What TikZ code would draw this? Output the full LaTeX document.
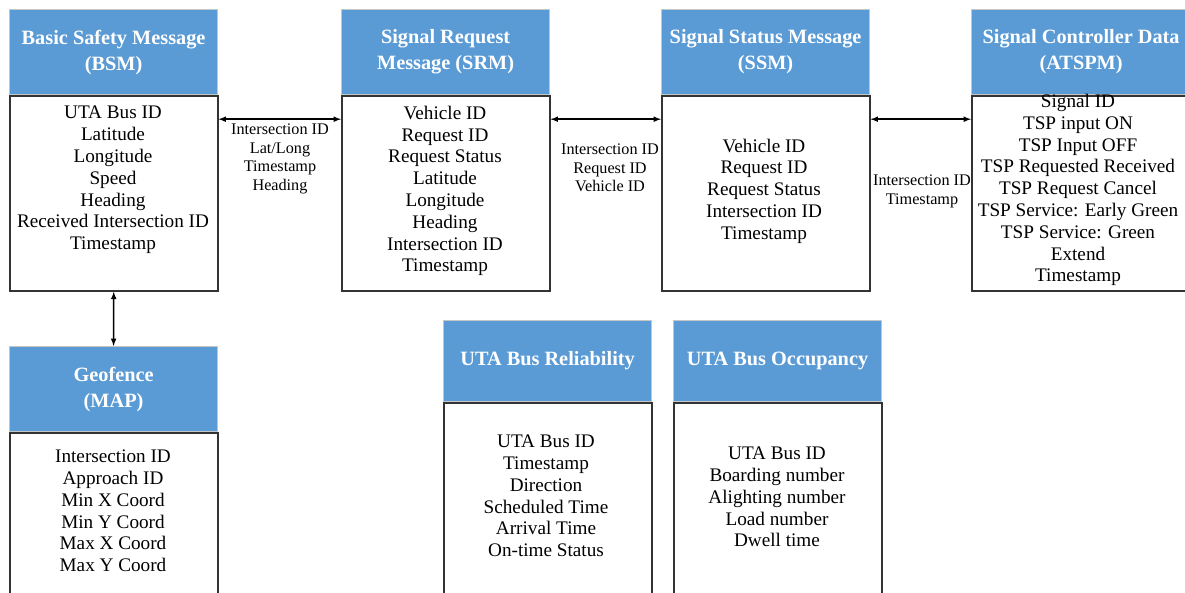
\documentclass[tikz,border=0pt]{standalone}
\usepackage{fontspec}
\setmainfont{Liberation Serif}
\definecolor{hdrblue}{HTML}{5B9BD5}

\begin{document}
\begin{tikzpicture}[x=1pt, y=-1pt,
		header/.style={draw=gray!45, line width=1.2pt, fill=hdrblue, text=white, align=center,
			font=\fontsize{20.3}{26}\selectfont\bfseries, minimum width=208pt, minimum height=85pt,
			anchor=north west, inner sep=0pt},
		body/.style={draw=black!80, line width=1.5pt, fill=white, minimum width=208pt,
			minimum height=195pt, anchor=north west, inner sep=0pt},
		fields/.style={font=\fontsize{19.2}{21.8}\selectfont, align=center, inner sep=0pt},
		flowlabel/.style={font=\fontsize{16.2}{18.7}\selectfont, align=center, inner sep=0pt},
		link/.style={line width=1.5pt, <->, >=latex}]
		\useasboundingbox (0, 0) rectangle (1185, 592);

		% messaggi
		\node[header] (bsmhead) at (9, 9) {Basic Safety Message\\(BSM)};
		\node[body] (bsmbody) at (bsmhead.south west) {};
		\node[header] (srmhead) at (341, 9) {Signal Request\\Message (SRM)};
		\node[body] (srmbody) at (srmhead.south west) {};
		\node[header] (ssmhead) at (661, 9) {Signal Status Message\\(SSM)};
		\node[body] (ssmbody) at (ssmhead.south west) {};
		\node[header, minimum width=219pt] (atspmhead) at (971, 9) {Signal Controller Data\\(ATSPM)};
		\node[body, minimum width=219pt] (atspmbody) at (atspmhead.south west) {};

		% dati
		\node[header] (maphead) at (9, 346) {Geofence\\(MAP)};
		\node[body] (mapbody) at (maphead.south west) {};
		\node[header, minimum height=81pt] (relhead) at (443, 320) {UTA Bus Reliability};
		\node[body] (relbody) at (relhead.south west) {};
		\node[header, minimum height=81pt] (occhead) at (673, 320) {UTA Bus Occupancy};
		\node[body] (occbody) at (occhead.south west) {};

		% campi
		\node[fields] (bsmtext) at (113, 180) {UTA Bus ID\\Latitude\\Longitude\\Speed\\Heading\\Received Intersection ID\\Timestamp};
		\node[fields] (srmtext) at (445, 191) {Vehicle ID\\Request ID\\Request Status\\Latitude\\Longitude\\Heading\\Intersection ID\\Timestamp};
		\node[fields] (ssmtext) at (764, 191) {Vehicle ID\\Request ID\\Request Status\\Intersection ID\\Timestamp};
		\node[fields] (atspmtext) at (1078, 190) {Signal ID\\TSP input ON\\TSP Input OFF\\TSP Requested Received\\TSP Request Cancel\\TSP Service: Early Green\\TSP Service: Green\\Extend\\Timestamp};
		\node[fields] (maptext) at (113, 511) {Intersection ID\\Approach ID\\Min X Coord\\Min Y Coord\\Max X Coord\\Max Y Coord};
		\node[fields] (reltext) at (546, 496) {UTA Bus ID\\Timestamp\\Direction\\Scheduled Time\\Arrival Time\\On-time Status};
		\node[fields] (occtext) at (777, 497) {UTA Bus ID\\Boarding number\\Alighting number\\Load number\\Dwell time};

		% collegamenti
		\draw[link] ([yshift=-24pt]bsmbody.north east) -- ([yshift=-24pt]srmbody.north west);
		\draw[link] ([yshift=-24pt]srmbody.north east) -- ([yshift=-24pt]ssmbody.north west);
		\draw[link] ([yshift=-24pt]ssmbody.north east) -- ([yshift=-24pt]atspmbody.north west);
		\draw[link] (bsmbody.south) -- (maphead.north);

		\node[flowlabel] (bsmsrm) at (280, 159) {Intersection ID\\Lat/Long\\Timestamp\\Heading};
		\node[flowlabel] (srmssm) at (610, 168) {Intersection ID\\Request ID\\Vehicle ID};
		\node[flowlabel] (ssmatspm) at (922, 191.5) {Intersection ID\\Timestamp};
	\end{tikzpicture}
\end{document}
